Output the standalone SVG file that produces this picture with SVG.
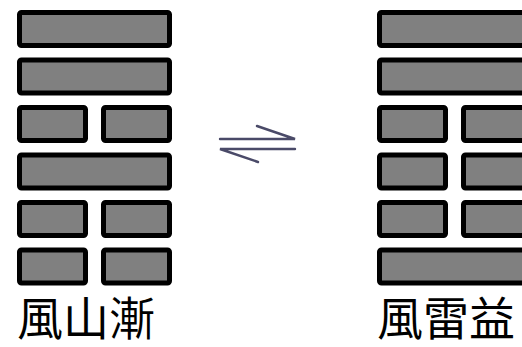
<svg xmlns="http://www.w3.org/2000/svg" width="522" height="347" viewBox="0 0 522 347">
<style>
.bar{fill:#808080;stroke:#000;stroke-width:5;}
.lbl{font-family:"Noto Sans CJK TC","Noto Sans CJK SC",sans-serif;font-size:46px;fill:#000;}
.arr{stroke:#4a4a68;stroke-width:2.4;fill:none;stroke-linecap:round;}
</style>
<rect width="522" height="347" fill="#fff"/>
<g id="hex-jian">
<rect class="bar" x="19.5" y="12.5" width="150" height="33" rx="2"/>
<rect class="bar" x="19.5" y="60" width="150" height="33" rx="2"/>
<rect class="bar" x="19.5" y="107.5" width="66" height="33" rx="2"/>
<rect class="bar" x="103.5" y="107.5" width="66" height="33" rx="2"/>
<rect class="bar" x="19.5" y="155" width="150" height="33" rx="2"/>
<rect class="bar" x="19.5" y="202.5" width="66" height="33" rx="2"/>
<rect class="bar" x="103.5" y="202.5" width="66" height="33" rx="2"/>
<rect class="bar" x="19.5" y="250" width="66" height="33" rx="2"/>
<rect class="bar" x="103.5" y="250" width="66" height="33" rx="2"/>
<text class="lbl" x="17" y="335">風山漸</text>
</g>
<g id="hex-yi">
<rect class="bar" x="379.5" y="12.5" width="150" height="33" rx="2"/>
<rect class="bar" x="379.5" y="60" width="150" height="33" rx="2"/>
<rect class="bar" x="379.5" y="107.5" width="66" height="33" rx="2"/>
<rect class="bar" x="463.5" y="107.5" width="66" height="33" rx="2"/>
<rect class="bar" x="379.5" y="155" width="66" height="33" rx="2"/>
<rect class="bar" x="463.5" y="155" width="66" height="33" rx="2"/>
<rect class="bar" x="379.5" y="202.5" width="66" height="33" rx="2"/>
<rect class="bar" x="463.5" y="202.5" width="66" height="33" rx="2"/>
<rect class="bar" x="379.5" y="250" width="150" height="33" rx="2"/>
<text class="lbl" x="377" y="335">風雷益</text>
</g>
<g id="connectors">
<path class="arr" d="M220 139 H295 L257 126"/>
<path class="arr" d="M295 149 H220 L258 162"/>
</g>
</svg>
